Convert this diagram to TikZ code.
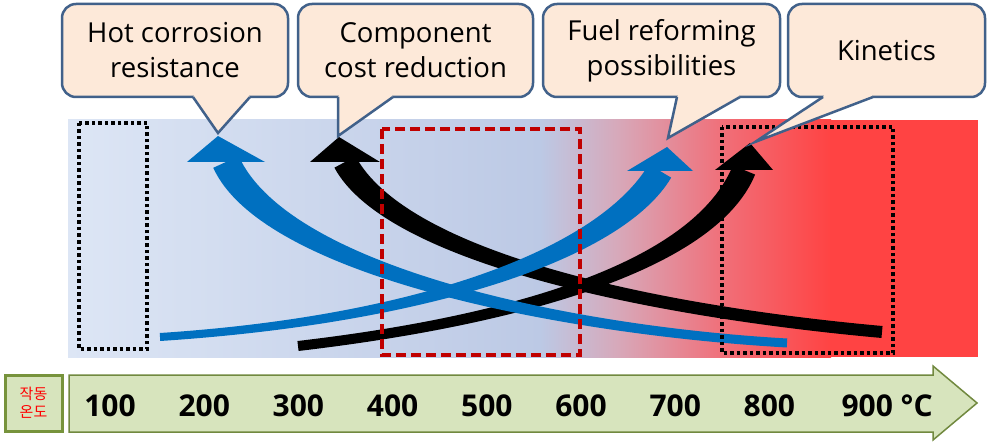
\documentclass[tikz,border=0pt]{standalone}
\usepackage{fontspec}
\setmainfont{Open Sans}
\newfontfamily\krfont{Noto Sans CJK KR}
\usetikzlibrary{calc}
\definecolor{bandA}{HTML}{DDE6F5}
\definecolor{bandB}{HTML}{BCC9E5}
\definecolor{bandC}{HTML}{D8A7B8}
\definecolor{bandD}{HTML}{F0707A}
\definecolor{bandE}{HTML}{FF4343}
\definecolor{arrblue}{HTML}{0070C0}
\definecolor{calloutfill}{HTML}{FDE9D9}
\definecolor{calloutline}{HTML}{41618A}
\definecolor{dashred}{HTML}{C00000}
\definecolor{axisgreen}{HTML}{D7E4BD}
\definecolor{axisline}{HTML}{71893F}
\definecolor{boxline}{HTML}{77933C}
\tikzset{
  bubble/.style={draw=calloutline, fill=calloutfill, line width=2.5pt, rounded corners=14pt,
                 minimum height=93pt, inner sep=0pt, outer sep=0pt, align=center,
                 font=\fontsize{27.5}{35}\selectfont},
  pointer/.style={calloutline, line width=2.5pt},
  dotbox/.style={draw=black, line width=3.5pt, dash pattern=on 3.5pt off 3pt},
  redbox/.style={draw=dashred, line width=3.5pt, dash pattern=on 10pt off 5pt},
  axisarrow/.style={draw=axisline, fill=axisgreen, line width=1.5pt},
  krbox/.style={draw=boxline, fill=axisgreen, line width=3pt, minimum width=57pt,
                minimum height=56pt, inner sep=0pt, text=red, align=center,
                font=\krfont\fontsize{15}{18}\selectfont},
  tick/.style={anchor=base, font=\fontsize{30}{30}\selectfont\bfseries},
}
% tapered bent arrow: colour, tail, ctrl 1, ctrl 2, neck, tip, tail half, neck half, head half
\newcommand{\bentarrow}[9]{%
  \coordinate (tl) at ($(#2)!#7!90:(#3)$);
  \coordinate (tr) at ($(#2)!#7!-90:(#3)$);
  \coordinate (nl) at ($(#5)!#8!-90:(#4)$);
  \coordinate (nr) at ($(#5)!#8!90:(#4)$);
  \fill[#1] (tl) .. controls ($(#3)+(tl)-(#2)$) and ($(#4)+(nl)-(#5)$) .. (nl)
    -- (nr) .. controls ($(#4)+(nr)-(#5)$) and ($(#3)+(tr)-(#2)$) .. (tr) -- cycle;
  \fill[#1] ($(#5)+(-#9,0)$) -- (#6) -- ($(#5)+(#9,0)$) -- cycle;
}

\begin{document}
\begin{tikzpicture}[x=1pt, y=-1pt]
  \useasboundingbox (0,0) rectangle (992,446);
  \fill[white] (0,0) rectangle (992,446);

  % temperature band
  \shade[left color=bandA, right color=bandB] (68,120) rectangle (541,357);
  \shade[left color=bandB, right color=bandC] (540,120) rectangle (621,357);
  \shade[left color=bandC, right color=bandD] (620,120) rectangle (721,357);
  \shade[left color=bandD, right color=bandE] (720,120) rectangle (831,357);
  \fill[bandE] (830,120) rectangle (978,357);

  % arrows
  \coordinate (compT) at (882,332); \coordinate (compA) at (640,310);
  \coordinate (compB) at (395,255); \coordinate (compN) at (345,162);
  \coordinate (compH) at (339,137);
  \coordinate (kinT) at (298,346); \coordinate (kinA) at (520,320);
  \coordinate (kinB) at (705,265); \coordinate (kinN) at (744,170);
  \coordinate (kinH) at (750,143);
  \coordinate (hotT) at (787,343); \coordinate (hotA) at (560,330);
  \coordinate (hotB) at (275,270); \coordinate (hotN) at (226,162);
  \coordinate (hotH) at (218,136);
  \coordinate (fuelT) at (160,337); \coordinate (fuelA) at (420,320);
  \coordinate (fuelB) at (610,255); \coordinate (fuelN) at (660,171);
  \coordinate (fuelH) at (667,147);
  \bentarrow{black}{compT}{compA}{compB}{compN}{compH}{6pt}{12pt}{35pt}
  \bentarrow{black}{kinT}{kinA}{kinB}{kinN}{kinH}{5pt}{12pt}{29pt}
  \bentarrow{arrblue}{hotT}{hotA}{hotB}{hotN}{hotH}{4.5pt}{14pt}{39pt}
  \bentarrow{arrblue}{fuelT}{fuelA}{fuelB}{fuelN}{fuelH}{4pt}{13pt}{33pt}

  \draw[dotbox] (79,123) rectangle (147,349);
  \draw[dotbox] (722,127) rectangle (893,353);
  \draw[redbox] (382,129) rectangle (580,355);

  % callouts
  \node[bubble, minimum width=226pt] (hot) at (175,50.5) {Hot corrosion\\resistance};
  \node[bubble, minimum width=235pt] (comp) at (415.5,50.5) {Component\\cost reduction};
  \node[bubble, minimum width=237pt] (fuel) at (661.5,50.5) {Fuel reforming\\possibilities};
  \node[bubble, minimum width=197pt] (kin) at (886.5,50.5) {Kinetics};
  \coordinate (hotP) at (218,133);
  \coordinate (compP) at (338,136);
  \coordinate (fuelP) at (668,138);
  \coordinate (kinP) at (755,142);
  \foreach \b/\l/\r in {hot/131/188, comp/40/95, fuel/134/197, kin/35/85}{
    \fill[calloutfill] ($(\b.south west)+(\l+2,-3)$) -- ($(\b.south west)+(\l,0)$) -- (\b P)
      -- ($(\b.south west)+(\r,0)$) -- ($(\b.south west)+(\r-2,-3)$) -- cycle;
    \draw[pointer] ($(\b.south west)+(\l,0)$) -- (\b P) -- ($(\b.south west)+(\r,0)$);
  }

  % temperature axis
  \node[krbox] (label) at (33.5,403) {작동\\온도};
  \draw[axisarrow] (69,375) -- (933,375) -- (933,366) -- (977,403) -- (933,440)
    -- (933,432) -- (69,432) -- cycle;
  \foreach \t [count=\i from 0] in {100,200,...,800}
    \node[tick] (t\t) at ({110+94.2*\i},416) {\t};
  \node[tick, anchor=base west] (t900) at (838,416) {900 °C};
\end{tikzpicture}
\end{document}
